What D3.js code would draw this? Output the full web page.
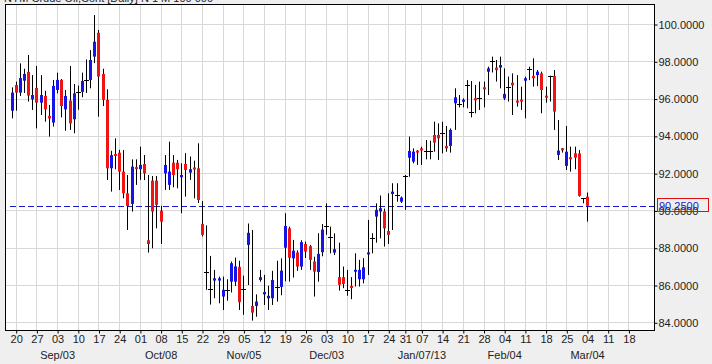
<!DOCTYPE html>
<html>
<head>
<meta charset="utf-8">
<script src="https://cdn.jsdelivr.net/npm/d3@7"></script>
<style>
  body { margin: 0; background: #efefef; }
  svg { display: block; font-family: "Liberation Sans", Arial, sans-serif; }
</style>
</head>
<body>
<div id="chart"></div>
<script>
var svgWidth = 712;
var svgHeight = 364;

var plot = {left: 5, right: 654, top: 4, bottom: 330};

// trading calendar
var firstDay = "2012-08-17";
var lastDay = "2013-03-22";
var holidays = ["2012-12-25", "2013-01-01"];

var titleText = "NYM Crude Oil,Cont [Daily] N 1 M 100 000";

var opens = [95.35,96.73,96.32,96.96,97.43,95.96,96.57,95.78,96.14,95.07,
  94.71,96.46,97.00,95.42,95.89,94.89,96.35,96.36,97.00,97.00,
  98.25,99.53,97.32,95.93,92.26,93.00,93.10,92.08,90.92,90.35,
  92.30,92.21,92.49,88.40,91.60,91.60,89.99,91.99,91.37,92.56,
  92.56,91.78,92.49,92.03,92.30,92.26,89.28,86.72,85.76,86.24,
  86.24,85.38,85.74,86.18,86.18,86.97,85.76,88.15,84.88,84.88,
  86.27,85.50,85.29,85.29,85.92,85.90,88.00,89.04,87.43,87.74,
  86.99,88.20,88.08,87.26,86.70,87.76,89.17,88.60,87.74,86.42,
  86.42,85.72,85.92,86.72,86.31,86.31,87.65,88.50,89.67,89.94,
  89.94,88.90,90.88,90.84,90.47,91.86,92.83,92.62,93.18,93.33,
  93.18,93.18,94.05,94.05,94.18,93.46,93.46,95.75,95.72,95.84,
  96.71,95.30,95.98,96.01,96.57,97.44,97.99,97.66,97.66,96.01,
  96.64,96.85,95.86,95.91,96.96,97.57,97.21,97.26,97.35,96.12,
  97.21,97.21,92.98,93.30,92.39,92.82,93.06,93.06,90.65,90.74];

var highs = [96.60,96.91,97.89,97.60,98.34,97.26,97.75,97.26,96.42,95.66,
  97.00,97.39,97.05,96.46,97.75,96.78,96.70,97.39,98.10,98.60,
  100.48,99.68,97.60,96.50,93.20,93.87,93.25,93.24,91.90,92.74,
  92.74,93.42,92.97,91.90,91.85,91.85,90.25,92.97,93.69,92.97,
  92.71,92.53,93.07,92.89,92.67,93.60,90.50,89.20,87.56,86.81,
  86.45,86.45,86.31,87.26,87.47,87.30,86.50,89.30,88.95,85.50,
  86.81,86.54,85.96,86.76,87.30,87.43,89.85,89.13,88.42,87.86,
  88.40,88.33,88.15,87.52,88.78,89.27,90.38,89.13,88.77,88.27,
  86.99,86.81,86.42,87.70,87.35,87.44,89.49,88.78,90.38,90.80,
  90.10,90.92,91.46,91.46,90.75,91.90,93.96,93.33,93.24,93.42,
  93.78,93.74,94.76,94.67,94.76,94.53,94.40,96.55,96.19,96.01,
  96.99,96.94,96.73,96.91,96.91,97.71,98.25,98.07,98.25,97.62,
  97.18,97.35,97.26,96.64,97.18,97.71,98.16,97.53,97.44,96.64,
  97.23,97.53,94.85,93.35,94.53,93.42,93.42,93.24,90.66,90.96];

var lows = [94.94,95.35,96.14,96.30,95.84,95.39,94.40,95.12,94.76,93.96,
  94.50,96.28,94.99,94.28,94.32,94.14,95.40,96.07,96.30,96.55,
  97.90,95.03,95.60,91.63,91.01,92.21,91.10,90.65,88.95,89.94,
  91.37,91.64,91.63,87.74,87.97,89.04,88.20,91.10,91.10,91.24,
  91.19,89.85,90.74,91.64,90.65,90.40,88.60,85.74,84.95,85.29,
  85.02,84.66,85.16,85.60,85.95,84.66,84.40,86.00,84.09,84.30,
  86.18,84.93,84.66,84.93,85.11,85.45,86.20,86.18,86.40,86.76,
  86.81,87.45,86.81,85.38,86.18,87.54,88.69,87.70,87.61,85.70,
  85.83,85.42,85.24,85.92,85.92,86.09,86.54,87.70,88.27,88.50,
  88.06,88.20,88.95,90.47,90.40,90.03,91.81,92.53,92.44,92.44,
  92.74,92.74,93.15,92.71,93.06,93.15,93.10,94.32,95.53,95.53,
  95.48,94.99,95.21,95.39,95.53,96.19,97.40,96.91,96.55,95.92,
  95.84,95.12,95.57,95.39,94.94,96.99,96.64,96.67,95.21,95.78,
  95.84,94.32,92.71,93.10,92.17,92.08,92.21,90.74,90.38,89.40];

var closes = [96.32,96.32,97.10,97.32,96.16,96.19,95.78,96.19,95.42,94.93,
  96.68,97.00,95.60,96.14,94.67,96.28,96.35,96.94,97.00,98.07,
  99.05,97.18,95.93,92.26,92.97,92.95,92.08,90.92,90.24,92.35,
  92.24,92.44,91.99,88.20,89.94,90.30,89.40,92.44,92.08,91.90,
  92.21,91.90,92.17,92.21,92.20,90.56,88.69,86.72,85.76,86.36,
  86.36,85.74,85.74,87.17,87.00,85.08,85.76,88.80,84.52,85.11,
  86.42,85.62,85.42,86.27,85.92,86.77,89.17,87.46,87.84,86.99,
  88.30,87.79,87.35,86.72,87.67,88.97,89.17,88.60,87.92,86.01,
  86.06,85.72,85.86,86.81,86.81,86.95,87.74,88.50,90.03,90.12,
  89.04,88.69,91.01,90.84,90.69,91.86,93.19,93.15,93.13,93.21,
  93.18,93.18,93.64,93.87,94.18,93.33,94.32,96.07,95.72,95.92,
  96.71,95.30,95.94,96.01,96.53,97.62,97.99,97.53,97.80,96.25,
  96.64,96.71,95.82,95.87,97.09,97.57,97.09,97.44,96.46,96.08,
  97.21,95.30,93.21,93.26,93.15,92.78,92.83,90.78,90.65,90.25];

var lastPrice = 90.25;
var priceTicks = [84, 86, 88, 90, 92, 94, 96, 98, 100];

var monthLabels = [
  ["2012-09-03", "Sep/03"],
  ["2012-10-08", "Oct/08"],
  ["2012-11-05", "Nov/05"],
  ["2012-12-03", "Dec/03"],
  ["2013-01-07", "Jan/07/13"],
  ["2013-02-04", "Feb/04"],
  ["2013-03-04", "Mar/04"]
];

var parseDate = d3.timeParse("%Y-%m-%d");
var keyFormat = d3.timeFormat("%Y-%m-%d");

var dates = d3.timeDay.range(parseDate(firstDay), d3.timeDay.offset(parseDate(lastDay), 1))
  .filter(d => d.getDay() > 0 && d.getDay() < 6 && holidays.indexOf(keyFormat(d)) < 0);
var dateKeys = dates.map(keyFormat);

var candles = opens.map((o, i) => ({i: i, o: o, h: highs[i], l: lows[i], c: closes[i]}));

var xScale = d3.scaleLinear()
  .domain([0, 139])
  .range([11.56, 587]);

var yScale = d3.scaleLinear()
  .domain([84, 100])
  .range([322.3, 24]);

var mondays = dates.map((d, i) => i).filter(i => dates[i].getDay() === 1);

var svg = d3.select("#chart")
  .append("svg")
  .attr("width", svgWidth)
  .attr("height", svgHeight);

svg.append("rect")
  .attr("width", svgWidth)
  .attr("height", svgHeight)
  .attr("fill", "#efefef");

// title, mostly cut off above the plot
svg.append("text")
  .attr("x", 4)
  .attr("y", 2)
  .style("font-size", "11px")
  .attr("fill", "#222")
  .text(titleText);

svg.append("rect")
  .attr("x", plot.left)
  .attr("y", plot.top)
  .attr("width", plot.right - plot.left)
  .attr("height", plot.bottom - plot.top)
  .attr("fill", "#fff");

svg.append("clipPath")
  .attr("id", "clip")
  .append("rect")
  .attr("x", plot.left)
  .attr("y", plot.top)
  .attr("width", plot.right - plot.left)
  .attr("height", plot.bottom - plot.top);

var grid = svg.append("g").attr("stroke", "#d8d8d8").attr("stroke-width", 1);

grid.selectAll(".hgrid")
  .data(priceTicks)
  .enter()
  .append("line")
  .attr("x1", plot.left)
  .attr("x2", plot.right)
  .attr("y1", d => Math.round(yScale(d)) + 0.5)
  .attr("y2", d => Math.round(yScale(d)) + 0.5);

grid.selectAll(".vgrid")
  .data(mondays)
  .enter()
  .append("line")
  .attr("x1", d => Math.round(xScale(d)) + 0.5)
  .attr("x2", d => Math.round(xScale(d)) + 0.5)
  .attr("y1", plot.top)
  .attr("y2", plot.bottom);

// last price line
svg.append("line")
  .attr("x1", 10)
  .attr("x2", plot.right)
  .attr("y1", Math.round(yScale(lastPrice)) + 0.5)
  .attr("y2", Math.round(yScale(lastPrice)) + 0.5)
  .attr("stroke", "#1a1acc")
  .attr("stroke-width", 1.2)
  .attr("stroke-dasharray", "6,3");

var chartGroup = svg.append("g").attr("clip-path", "url(#clip)");

var candleGroup = chartGroup.selectAll(".candle")
  .data(candles)
  .enter()
  .append("g");

candleGroup.append("line")
  .attr("x1", d => Math.round(xScale(d.i)) + 0.5)
  .attr("x2", d => Math.round(xScale(d.i)) + 0.5)
  .attr("y1", d => yScale(d.h))
  .attr("y2", d => yScale(d.l))
  .attr("stroke", "#000")
  .attr("stroke-width", 1);

candleGroup.filter(d => d.o !== d.c)
  .append("rect")
  .attr("x", d => Math.round(xScale(d.i)) - 1)
  .attr("width", 3)
  .attr("y", d => {
    var top = yScale(Math.max(d.o, d.c));
    var h = Math.abs(yScale(d.o) - yScale(d.c));
    return h < 2 ? (top + h / 2 - 1) : top;
  })
  .attr("height", d => Math.max(2, Math.abs(yScale(d.o) - yScale(d.c))))
  .attr("fill", d => d.c > d.o ? "#1414e6" : "#ee1414");

candleGroup.filter(d => d.o === d.c)
  .append("line")
  .attr("x1", d => Math.round(xScale(d.i)) - 2)
  .attr("x2", d => Math.round(xScale(d.i)) + 3)
  .attr("y1", d => Math.round(yScale(d.c)) + 0.5)
  .attr("y2", d => Math.round(yScale(d.c)) + 0.5)
  .attr("stroke", "#000")
  .attr("stroke-width", 1);

// frame
svg.append("rect")
  .attr("x", plot.left + 0.5)
  .attr("y", plot.top + 0.5)
  .attr("width", plot.right - plot.left)
  .attr("height", plot.bottom - plot.top)
  .attr("fill", "none")
  .attr("stroke", "#000")
  .attr("stroke-width", 1);

// bottom axis
var bottomAxis = d3.axisBottom(xScale)
  .tickValues(mondays)
  .tickSize(3)
  .tickPadding(2)
  .tickFormat(i => d3.timeFormat("%d")(dates[i]));

var xAxisGroup = svg.append("g")
  .attr("transform", `translate(0.5, ${plot.bottom + 0.5})`)
  .call(bottomAxis);

xAxisGroup.select(".domain").remove();
xAxisGroup.selectAll(".tick line").attr("stroke", "#000");
xAxisGroup.selectAll("text")
  .style("font-size", "11px")
  .style("font-family", "Liberation Sans, Arial, sans-serif")
  .attr("fill", "#222");

svg.append("g")
  .selectAll("text")
  .data(monthLabels)
  .enter()
  .append("text")
  .attr("x", d => xScale(dateKeys.indexOf(d[0])) + 0.5)
  .attr("y", 359)
  .style("text-anchor", "middle")
  .style("font-size", "11px")
  .attr("fill", "#222")
  .text(d => d[1]);

// right axis
var rightAxis = d3.axisRight(yScale)
  .tickValues(priceTicks)
  .tickSize(3)
  .tickPadding(1)
  .tickFormat(d3.format(".4f"));

var yAxisGroup = svg.append("g")
  .attr("transform", `translate(${plot.right + 0.5}, 0.5)`)
  .call(rightAxis);

yAxisGroup.select(".domain").remove();
yAxisGroup.selectAll(".tick line").attr("stroke", "#000");
yAxisGroup.selectAll("text")
  .style("font-size", "11px")
  .style("font-family", "Liberation Sans, Arial, sans-serif")
  .attr("fill", "#222");

// last price marker
svg.append("rect")
  .attr("x", 657.5)
  .attr("y", 198.5)
  .attr("width", 51)
  .attr("height", 13)
  .attr("fill", "none")
  .attr("stroke", "#e01010")
  .attr("stroke-width", 1);

svg.append("text")
  .attr("x", 659)
  .attr("y", yScale(lastPrice) + 4)
  .style("font-size", "11px")
  .attr("fill", "#1a1acc")
  .text(d3.format(".4f")(lastPrice));
</script>
</body>
</html>
